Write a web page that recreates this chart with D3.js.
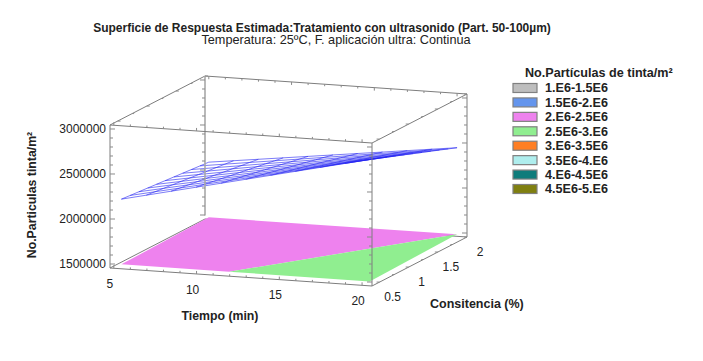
<!DOCTYPE html>
<meta charset="utf-8">
<style>
body{margin:0;background:#fff;font-family:'Liberation Sans',Arial,sans-serif;}
text{fill:#222;}
.edge{fill:none;stroke:#7d7d7d;stroke-width:1;}
.tick{stroke:#8a8a8a;stroke-width:1;}
.mesh{fill:none;stroke:#2222f2;stroke-width:.7;stroke-opacity:.85;}
</style>
<body>
<script src="https://d3js.org/d3.v7.min.js"></script>
<script>
// data
var timeLabels = [5, 10, 15, 20];
var consLabels = [0.5, 1, 1.5, 2];
var zLabels = [1500000, 2000000, 2500000, 3000000];
var timeMinor = [5,6,7,8,9,10,11,12,13,14,15,16,17,18,19,20];
var consMinor = [0.5,0.75,1,1.25,1.5,1.75,2];
var zMinor = [1500000,1600000,1700000,1800000,1900000,2000000,2100000,2200000,2300000,2400000,2500000,2600000,2700000,2800000,2900000,3000000];

var gridTime = [5,6.5,8,9.5,11,12.5,14,15.5,17,18.5,20];
var gridCons = [0.5,0.65,0.8,0.95,1.1,1.25,1.4,1.55,1.7,1.85,2];
// surface height in thousands, one row per gridCons
var surface = [
  [2180,2243,2306,2369,2432,2495,2558,2621,2684,2747,2810],
  [2171,2231,2291,2352,2412,2472,2532,2592,2653,2713,2773],
  [2162,2219,2277,2334,2392,2449,2506,2564,2621,2679,2736],
  [2153,2208,2262,2317,2371,2426,2481,2535,2590,2644,2699],
  [2144,2196,2248,2299,2351,2403,2455,2507,2558,2610,2662],
  [2135,2184,2233,2282,2331,2380,2429,2478,2527,2576,2625],
  [2126,2172,2218,2265,2311,2357,2403,2449,2496,2542,2588],
  [2117,2160,2204,2247,2291,2334,2377,2421,2464,2508,2551],
  [2108,2149,2189,2230,2270,2311,2352,2392,2433,2473,2514],
  [2099,2137,2175,2212,2250,2288,2326,2364,2401,2439,2477],
  [2090,2125,2160,2195,2230,2265,2300,2335,2370,2405,2440]
];
// contour regions on the floor, [time, consistencia]
var floorPink = [[5,0.5],[5,2],[20,2],[11.5,0.5]];
var floorGreen = [[11.5,0.5],[20,0.5],[20,2]];

var legendLabels = ["1.E6-1.5E6","1.5E6-2.E6","2.E6-2.5E6","2.5E6-3.E6","3.E6-3.5E6","3.5E6-4.E6","4.E6-4.5E6","4.5E6-5.E6"];
var legendColors = ["#bebebe","#6495ed","#ee82ee","#90ee90","#ff7f24","#afeeee","#0e7c7b","#7f7f10"];

var svg = d3.select("body").append("svg").attr("width", 703).attr("height", 361);

// box: three edge vectors from the front left bottom corner
var origin = [110, 268], vecT = [262, 18], vecC = [95, -49];
var tS = d3.scaleLinear().domain([4.77, 20.6]).range([0, 1]);
var cS = d3.scaleLinear().domain([0.37, 2]).range([0, 1]);
var zS = d3.scaleLinear().domain([1455600, 3044400]).range([0, 143]);
var tMin = tS.domain()[0], tMax = tS.domain()[1], cMin = cS.domain()[0], cMax = cS.domain()[1], zMin = zS.domain()[0], zMax = zS.domain()[1];

function proj(t, c, z) {
  var a = tS(t), b = cS(c);
  return [origin[0] + a*vecT[0] + b*vecC[0], origin[1] + a*vecT[1] + b*vecC[1] - zS(z)];
}
var line = d3.line();

function edge(p, q) {
  svg.append("path").attr("class", "edge").attr("d", line([p, q]));
}
function tick(p, dx, dy) {
  svg.append("line").attr("class", "tick")
    .attr("x1", p[0]).attr("y1", p[1]).attr("x2", p[0] + dx).attr("y2", p[1] + dy);
}

// back part of the box
edge(proj(tMin,cMax,zMin), proj(tMax,cMax,zMin));
edge(proj(tMin,cMin,zMin), proj(tMin,cMax,zMin));
edge(proj(tMin,cMin,zMax), proj(tMin,cMax,zMax));
edge(proj(tMin,cMax,zMax), proj(tMax,cMax,zMax));
edge(proj(tMax,cMin,zMax), proj(tMax,cMax,zMax));
edge(proj(tMax,cMax,zMin), proj(tMax,cMax,zMax));
edge(proj(tMax,cMin,zMin), proj(tMax,cMax,zMin));

// floor contours, lifted a touch at the back like the reference
[[floorPink, legendColors[2]], [floorGreen, legendColors[3]]].forEach(function(d) {
  svg.append("path")
    .attr("d", line.curve(d3.curveLinearClosed)(d[0].map(function(p) {
      return proj(p[0], p[1], p[1] == 2 ? zMin + 22000 : zMin);
    })))
    .attr("fill", d[1]);
});
line.curve(d3.curveLinear);

// wire mesh
surface.forEach(function(row, i) {
  svg.append("path").attr("class", "mesh")
    .attr("d", line(row.map(function(v, j) { return proj(gridTime[j], gridCons[i], v*1000); })));
});
gridTime.forEach(function(t, j) {
  svg.append("path").attr("class", "mesh")
    .attr("d", line(surface.map(function(row, i) { return proj(t, gridCons[i], row[j]*1000); })));
});

// back left post sits over the mesh and is a bit heavier
svg.append("path").attr("class", "edge").style("stroke", "#a8a8a8").style("stroke-width", 1.6)
  .attr("d", line([proj(tMin,cMax,zMin + 40000), proj(tMin,cMax,zMax)]));

// front part of the box
edge(proj(tMin,cMin,zMin), proj(tMax,cMin,zMin));
edge(proj(tMin,cMin,zMax), proj(tMax,cMin,zMax));
edge(proj(tMin,cMin,zMin), proj(tMin,cMin,zMax));
edge(proj(tMax,cMin,zMin), proj(tMax,cMin,zMax));

// minor ticks on all posts and edges
zMinor.forEach(function(z) {
  var major = zLabels.indexOf(z) >= 0, n = major ? 5 : 3;
  tick(proj(tMin,cMin,z), n, 0);
  tick(proj(tMax,cMin,z), -n, 0);
  tick(proj(tMin,cMax,z), -n, 0);
  tick(proj(tMax,cMax,z), -n, 0);
});
timeMinor.forEach(function(t) {
  var n = timeLabels.indexOf(t) >= 0 ? 3 : 2;
  tick(proj(t,cMin,zMin), 0, -n);
  tick(proj(t,cMin,zMax), 0, -n);
  tick(proj(t,cMax,zMax), 0, n);
});
consMinor.forEach(function(c) {
  var n = consLabels.indexOf(c) >= 0 ? 3 : 2;
  tick(proj(tMax,c,zMin), -n, 0);
  tick(proj(tMin,c,zMax), n, 0);
  tick(proj(tMax,c,zMax), -n, 0);
});

// tick labels
svg.selectAll(".zl").data(zLabels).join("text")
  .attr("x", 106).attr("y", function(d) { return proj(tMin,cMin,d)[1]; })
  .attr("dy", "0.35em").attr("text-anchor", "end").attr("font-size", 12)
  .text(function(d) { return d; });
svg.selectAll(".tl").data(timeLabels).join("text")
  .attr("x", function(d) { return proj(d,cMin,zMin)[0] - 4; })
  .attr("y", function(d) { return proj(d,cMin,zMin)[1] + 15.5; })
  .attr("dy", "0.35em").attr("text-anchor", "middle").attr("font-size", 12)
  .text(function(d) { return d; });
svg.selectAll(".cl").data(consLabels).join("text")
  .attr("x", function(d) { return proj(tMax,d,zMin)[0] + 13; })
  .attr("y", function(d) { return proj(tMax,d,zMin)[1] + 15; })
  .attr("dy", "0.35em").attr("text-anchor", "middle").attr("font-size", 12)
  .text(function(d) { return d; });

// titles
svg.append("text").attr("x", 322).attr("y", 32).attr("text-anchor", "middle")
  .attr("font-size", 12).attr("font-weight", "bold")
  .text("Superficie de Respuesta Estimada:Tratamiento con ultrasonido (Part. 50-100µm)");
svg.append("text").attr("x", 336).attr("y", 44).attr("text-anchor", "middle").attr("font-size", 12.7)
  .text("Temperatura: 25ºC, F. aplicación ultra: Continua");
svg.append("text").attr("x", 220).attr("y", 320).attr("text-anchor", "middle")
  .attr("font-size", 12.3).attr("font-weight", "bold").text("Tiempo (min)");
svg.append("text").attr("x", 430).attr("y", 308)
  .attr("font-size", 12.5).attr("font-weight", "bold").text("Consitencia (%)");
svg.append("text").attr("transform", "translate(36,195) rotate(-90)").attr("text-anchor", "middle")
  .attr("font-size", 12.3).attr("font-weight", "bold").text("No.Particulas tinta/m²");

// legend
svg.append("text").attr("x", 525).attr("y", 77)
  .attr("font-size", 12.6).attr("font-weight", "bold").text("No.Partículas de tinta/m²");
var ly = d3.scalePoint().domain(legendLabels).range([88, 189]);
var item = svg.selectAll(".item").data(legendLabels).join("g")
  .attr("transform", function(d) { return "translate(0," + ly(d) + ")"; });
item.append("rect").attr("x", 513).attr("y", -4.5).attr("width", 24).attr("height", 9)
  .attr("fill", function(d, i) { return legendColors[i]; })
  .attr("stroke", "#808080").attr("stroke-width", 1.2);
item.append("text").attr("x", 545).attr("dy", "0.35em")
  .attr("font-size", 12.6).attr("font-weight", "bold").text(function(d) { return d; });
</script>
</body>
